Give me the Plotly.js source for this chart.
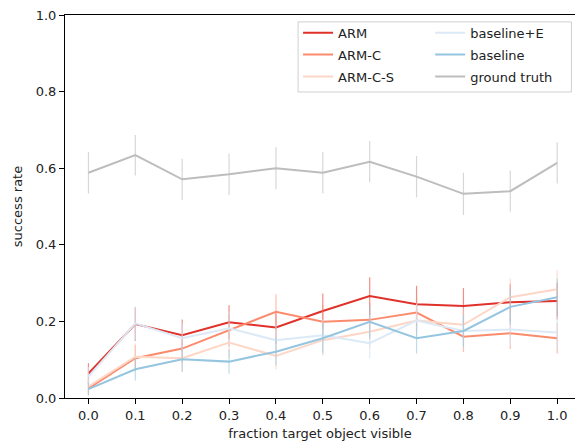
<!DOCTYPE html>
<html>
<head>
<meta charset="utf-8">
<script src="https://cdn.plot.ly/plotly-3.0.1.min.js"></script>
<style>html,body{margin:0;padding:0;background:#fff;}#chart{width:575px;height:447px;}</style>
</head>
<body>
<div id="chart"></div>
<script>
const xVals = [0.0, 0.1, 0.2, 0.3, 0.4, 0.5, 0.6, 0.7, 0.8, 0.9, 1.0];

const armY    = [0.064, 0.193, 0.164, 0.198, 0.184, 0.227, 0.266, 0.245, 0.240, 0.250, 0.253];
const armErr  = [0.027, 0.044, 0.041, 0.044, 0.043, 0.046, 0.049, 0.048, 0.047, 0.048, 0.048];

const armCY   = [0.025, 0.104, 0.129, 0.176, 0.225, 0.199, 0.204, 0.223, 0.160, 0.169, 0.156];
const armCErr = [0.017, 0.034, 0.037, 0.042, 0.046, 0.044, 0.045, 0.046, 0.040, 0.041, 0.040];

const armCSY   = [0.030, 0.108, 0.104, 0.145, 0.110, 0.151, 0.173, 0.202, 0.191, 0.263, 0.284];
const armCSErr = [0.019, 0.034, 0.034, 0.039, 0.035, 0.040, 0.042, 0.044, 0.043, 0.049, 0.050];

const baseEY   = [0.056, 0.195, 0.156, 0.182, 0.151, 0.164, 0.143, 0.202, 0.175, 0.179, 0.171];
const baseEErr = [0.025, 0.044, 0.040, 0.043, 0.040, 0.041, 0.039, 0.044, 0.042, 0.042, 0.042];

const baseY   = [0.023, 0.075, 0.101, 0.095, 0.121, 0.156, 0.199, 0.156, 0.175, 0.238, 0.263];
const baseErr = [0.017, 0.029, 0.033, 0.032, 0.036, 0.040, 0.044, 0.040, 0.042, 0.047, 0.049];

const gtY   = [0.588, 0.634, 0.571, 0.584, 0.600, 0.588, 0.617, 0.578, 0.533, 0.540, 0.614];
const gtErr = [0.054, 0.053, 0.054, 0.054, 0.055, 0.054, 0.054, 0.054, 0.055, 0.054, 0.054];

const seriesNames = ['ARM', 'ARM-C', 'ARM-C-S', 'baseline+E', 'baseline', 'ground truth'];
const xTickVals = [0.0, 0.1, 0.2, 0.3, 0.4, 0.5, 0.6, 0.7, 0.8, 0.9, 1.0];
const xTickText = ['0.0', '0.1', '0.2', '0.3', '0.4', '0.5', '0.6', '0.7', '0.8', '0.9', '1.0'];
const yTickVals = [0.0, 0.2, 0.4, 0.6, 0.8, 1.0];
const yTickText = ['0.0', '0.2', '0.4', '0.6', '0.8', '1.0'];

const series = [
  {name: seriesNames[0], y: armY, err: armErr, color: '#e0312a', ecolor: 'rgba(224,49,42,0.55)', leg: 'legend'},
  {name: seriesNames[1], y: armCY, err: armCErr, color: '#fc8b6d', ecolor: 'rgba(252,139,109,0.55)', leg: 'legend'},
  {name: seriesNames[2], y: armCSY, err: armCSErr, color: '#fdd6c5', ecolor: 'rgba(252,200,180,0.6)', leg: 'legend'},
  {name: seriesNames[3], y: baseEY, err: baseEErr, color: '#dce9f6', ecolor: 'rgba(210,226,242,0.7)', leg: 'legend2'},
  {name: seriesNames[4], y: baseY, err: baseErr, color: '#95c5df', ecolor: 'rgba(149,197,223,0.6)', leg: 'legend2'},
  {name: seriesNames[5], y: gtY, err: gtErr, color: '#bdbdbd', ecolor: 'rgba(189,189,189,0.6)', leg: 'legend2'}
];

const traces = series.map((s, i) => ({
  type: 'scatter',
  mode: 'lines',
  x: xVals,
  y: s.y,
  name: s.name,
  legend: s.leg,
  legendgroup: 'g' + i,
  line: {color: s.color, width: 2},
  error_y: {type: 'data', array: s.err, visible: true, color: s.ecolor, thickness: 1.2, width: 0}
}));

const fontFam = 'DejaVu Sans, sans-serif';
const fs = 13;

function legendCfg(x) {
  return {
    orientation: 'v',
    x: x, xanchor: 'left',
    y: 0.993, yanchor: 'top',
    itemwidth: 30,
    traceorder: 'grouped',
    tracegroupgap: 2,
    bgcolor: 'rgba(0,0,0,0)',
    borderwidth: 0,
    font: {family: fontFam, size: fs, color: '#222'}
  };
}

const layout = {
  width: 575,
  height: 447,
  margin: {l: 65, r: 0, t: 15, b: 49, pad: 0},
  paper_bgcolor: '#ffffff',
  plot_bgcolor: '#ffffff',
  font: {family: fontFam, size: fs, color: '#222'},
  showlegend: true,
  legend: legendCfg(0.457),
  legend2: legendCfg(0.716),
  shapes: [{
    type: 'rect', xref: 'paper', yref: 'paper', layer: 'above',
    x0: 0.457, x1: 0.993, y0: 0.799, y1: 0.982,
    line: {color: '#d0d0d0', width: 1},
    fillcolor: 'rgba(255,255,255,0.85)'
  }],
  xaxis: {
    range: [-0.05, 1.038],
    tickmode: 'array',
    tickvals: xTickVals,
    ticktext: xTickText,
    ticks: 'outside',
    ticklen: 5,
    tickwidth: 1,
    tickcolor: '#000',
    showline: true,
    linecolor: '#000',
    linewidth: 1,
    mirror: true,
    showgrid: false,
    zeroline: false,
    title: {text: 'fraction target object visible', font: {family: fontFam, size: fs, color: '#222'}, standoff: 7}
  },
  yaxis: {
    range: [0, 1],
    tickmode: 'array',
    tickvals: yTickVals,
    ticktext: yTickText,
    ticks: 'outside',
    ticklen: 5,
    tickwidth: 1,
    tickcolor: '#000',
    showline: true,
    linecolor: '#000',
    linewidth: 1,
    showgrid: false,
    zeroline: false,
    title: {text: 'success rate', font: {family: fontFam, size: fs, color: '#222'}, standoff: 10}
  }
};

Plotly.newPlot('chart', traces, layout, {displayModeBar: false, staticPlot: true});
</script>
</body>
</html>
